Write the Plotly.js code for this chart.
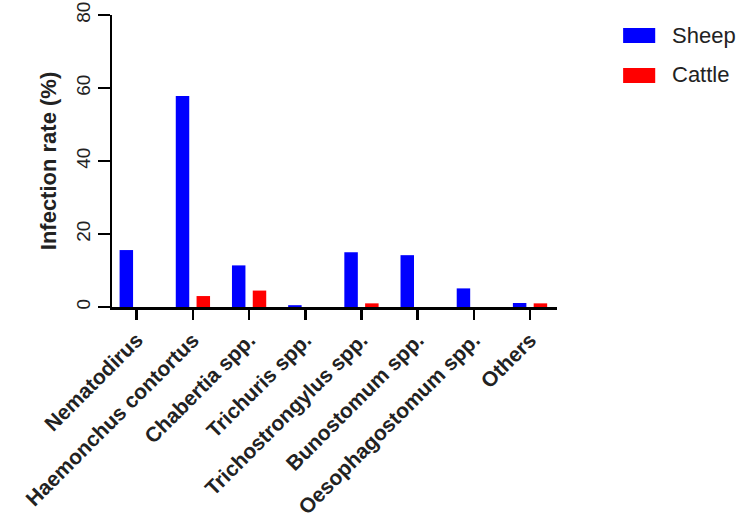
<!DOCTYPE html>
<html>
<head>
<meta charset="utf-8">
<script src="https://cdn.plot.ly/plotly-3.0.1.min.js"></script>
<style>html,body{margin:0;padding:0;background:#fff;}#chart{width:747px;height:527px;}</style>
</head>
<body>
<div id="chart"></div>
<script>
const categories = ["Nematodirus", "Haemonchus contortus", "Chabertia spp.", "Trichuris spp.", "Trichostrongylus spp.", "Bunostomum spp.", "Oesophagostomum spp.", "Others"];
const sheepValues = [15.6, 57.8, 11.4, 0.5, 15.0, 14.2, 5.1, 1.1];
const cattleValues = [0, 3.0, 4.5, 0, 1.0, 0, 0, 1.0];
const seriesNames = ["Sheep", "Cattle"];
const seriesColors = ["#0000FF", "#FF0000"];
const yTicks = [0, 20, 40, 60, 80];

const font = "Liberation Sans, Arial, sans-serif";
const traces = [
  {type: "bar", name: seriesNames[0], x: categories, y: sheepValues, width: 0.24, offset: -0.305,
   marker: {color: seriesColors[0], line: {width: 0}}, showlegend: false},
  {type: "bar", name: seriesNames[1], x: categories, y: cattleValues, width: 0.24, offset: 0.065,
   marker: {color: seriesColors[1], line: {width: 0}}, showlegend: false}
];

// custom legend (rectangular swatches like the reference)
const legShapes = [], legAnn = [];
const legY = [[0.9043, 0.9556, 0.929], [0.7675, 0.8188, 0.796]];
seriesNames.forEach((n, i) => {
  legShapes.push({type: "rect", xref: "paper", yref: "paper", x0: 1.1486, x1: 1.2207,
    y0: legY[i][0], y1: legY[i][1], fillcolor: seriesColors[i], line: {width: 0}});
  legAnn.push({xref: "paper", yref: "paper", x: 1.255, y: legY[i][2], xanchor: "left", yanchor: "middle",
    text: n, showarrow: false, font: {family: font, size: 22, color: "#222"}});
});

const layout = {
  width: 747, height: 527,
  margin: {l: 112, r: 190, t: 15, b: 219.5, pad: 0},
  paper_bgcolor: "#fff", plot_bgcolor: "#fff",
  font: {family: font, color: "#222"},
  showlegend: false,
  xaxis: {
    type: "category", range: [-0.44, 7.48], showgrid: false, zeroline: false,
    showline: true, linecolor: "#000", linewidth: 2.5,
    ticks: "outside", ticklen: 10, tickwidth: 2.5, tickcolor: "#000",
    tickangle: -45, tickfont: {family: font, size: 21, color: "#222", weight: "bold"},
    automargin: false
  },
  yaxis: {
    range: [0, 80], tickvals: yTicks, ticktext: yTicks.map(String),
    showgrid: false, zeroline: false,
    showline: true, linecolor: "#000", linewidth: 2.5,
    ticks: "outside", ticklen: 12, tickwidth: 2.5, tickcolor: "#000",
    tickangle: -90, tickfont: {family: font, size: 19, color: "#222"},
    title: {text: "Infection rate (%)", font: {family: font, size: 22, color: "#222", weight: "bold"}, standoff: 10},
    automargin: false
  },
  shapes: legShapes,
  annotations: legAnn
};

Plotly.newPlot("chart", traces, layout, {displayModeBar: false, staticPlot: true});
</script>
</body>
</html>
